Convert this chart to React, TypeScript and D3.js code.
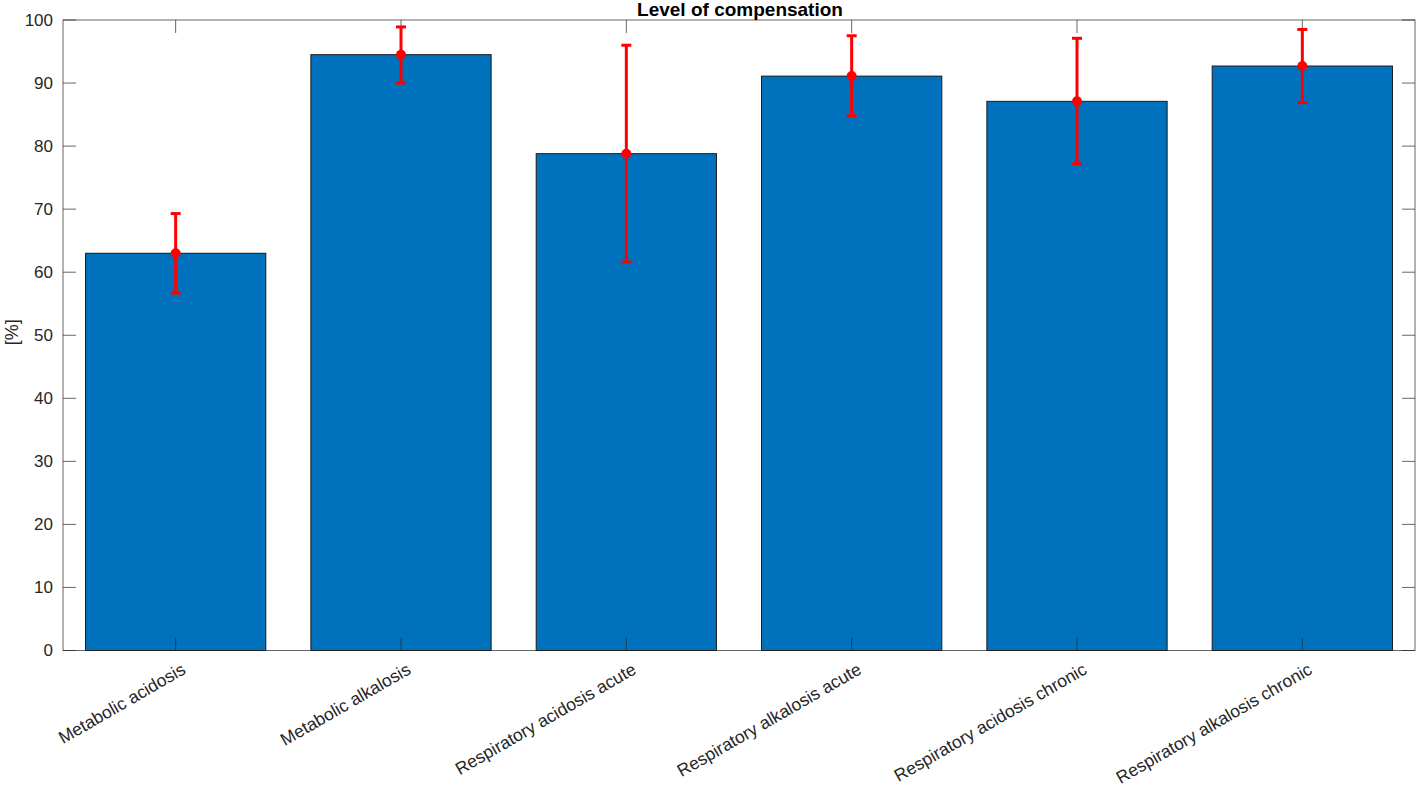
import React from "react";
import * as d3 from "d3";

const categories = [
  "Metabolic acidosis",
  "Metabolic alkalosis",
  "Respiratory acidosis acute",
  "Respiratory alkalosis acute",
  "Respiratory acidosis chronic",
  "Respiratory alkalosis chronic",
];
const values = [63.0, 94.5, 78.8, 91.1, 87.1, 92.7];
const errLow = [56.7, 90.0, 61.6, 84.8, 77.2, 86.9];
const errHigh = [69.3, 98.9, 96.0, 97.5, 97.1, 98.5];
const yTicks = [0, 10, 20, 30, 40, 50, 60, 70, 80, 90, 100];

const W = 1416;
const H = 790;
const L = 63;
const R = 1415;
const T = 20;
const B = 650.5;

export default function App() {
  const x = d3.scaleLinear().domain([0.5, categories.length + 0.5]).range([L, R]);
  const y = d3.scaleLinear().domain([0, 100]).range([B, T]);
  const step = x(2) - x(1);
  const bw = step * 0.8;
  const axisColor = "#262626";
  const font = "Arial, 'Liberation Sans', Helvetica, sans-serif";
  const tickLen = 13;

  return (
    <svg
      width={W}
      height={H}
      style={{ position: "absolute", left: 0, top: 0, background: "#fff" }}
      fontFamily={font}
    >
      {values.map((v, i) => (
        <rect
          key={"b" + i}
          x={x(i + 1) - bw / 2}
          y={y(v)}
          width={bw}
          height={y(0) - y(v)}
          fill="#0072BD"
          stroke="#1a1a1a"
          strokeWidth={1}
        />
      ))}
      <rect x={L} y={T} width={R - L} height={B - T} fill="none" stroke={axisColor} strokeOpacity={0.7} strokeWidth={1} />
      {yTicks.map((t) => (
        <g key={"y" + t}>
          <line x1={L} x2={L + tickLen} y1={y(t)} y2={y(t)} stroke={axisColor} strokeOpacity={0.7} />
          <line x1={R} x2={R - tickLen} y1={y(t)} y2={y(t)} stroke={axisColor} strokeOpacity={0.7} />
          <text x={L - 10} y={y(t)} dy="0.35em" textAnchor="end" fontSize={17} fill="#262626">
            {t}
          </text>
        </g>
      ))}
      {categories.map((c, i) => (
        <g key={"x" + i}>
          <line x1={x(i + 1)} x2={x(i + 1)} y1={B} y2={B - tickLen} stroke={axisColor} strokeOpacity={0.7} />
          <line x1={x(i + 1)} x2={x(i + 1)} y1={T} y2={T + tickLen} stroke={axisColor} strokeOpacity={0.7} />
          <text
            transform={`translate(${x(i + 1) + 8},${B + 17}) rotate(-30)`}
            textAnchor="end"
            fontSize={17.5}
            fill="#262626"
            dy="0.35em"
          >
            {c}
          </text>
        </g>
      ))}
      {values.map((v, i) => {
        const cx = x(i + 1);
        return (
          <g key={"e" + i} stroke="#FF0000" strokeWidth={3}>
            <line x1={cx} x2={cx} y1={y(errLow[i])} y2={y(errHigh[i])} />
            <line x1={cx - 5} x2={cx + 5} y1={y(errLow[i])} y2={y(errLow[i])} />
            <line x1={cx - 5} x2={cx + 5} y1={y(errHigh[i])} y2={y(errHigh[i])} />
            <circle cx={cx} cy={y(v)} r={5} fill="#FF0000" stroke="none" />
          </g>
        );
      })}
      <text x={(L + R) / 2 + 1} y={15.5} textAnchor="middle" fontSize={19} fontWeight="bold" fill="#000">
        Level of compensation
      </text>
      <text transform={`translate(18,${(T + B) / 2 - 3}) rotate(-90)`} textAnchor="middle" fontSize={18} fill="#262626">
        [%]
      </text>
    </svg>
  );
}
